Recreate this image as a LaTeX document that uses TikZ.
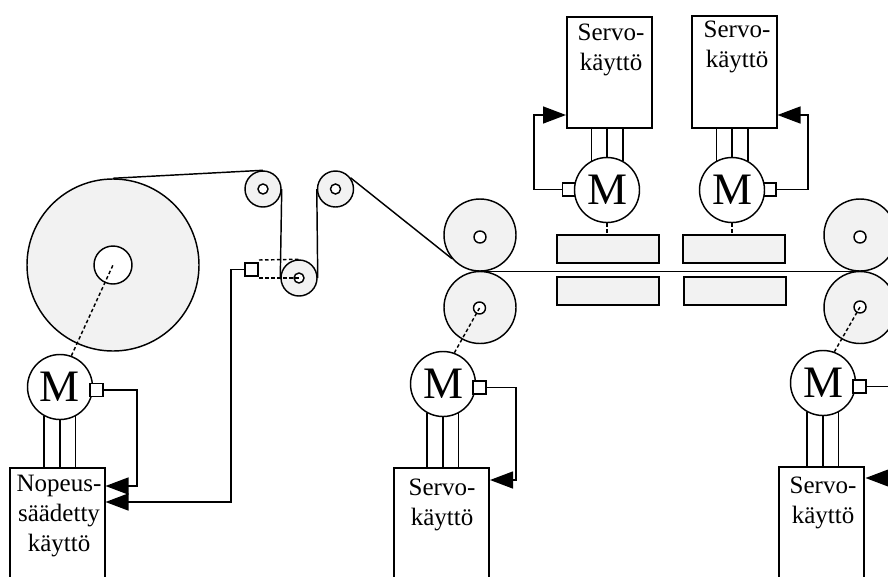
\documentclass[tikz,border=0pt]{standalone}
\usepackage{fontspec}
\setmainfont{Liberation Serif}
\usetikzlibrary{arrows.meta}
\definecolor{rollgray}{RGB}{242,242,242}
\tikzset{
  roll/.style={circle,draw,fill=rollgray,inner sep=0pt,minimum size=#1},
  hub/.style={circle,draw,fill=white,inner sep=0pt,minimum size=#1},
  motor/.style={circle,draw,fill=white,inner sep=0pt,minimum size=65,font=\fontsize{45}{45}\selectfont},
  sensor/.style={rectangle,draw,fill=white,inner sep=0pt,minimum size=13},
  drive/.style={rectangle,draw,fill=white,inner sep=0pt,minimum width=#1},
  plate/.style={rectangle,draw,fill=rollgray,inner sep=0pt,minimum width=102,minimum height=28},
  drivetext/.style={anchor=north,align=center,inner sep=0pt,font=\fontsize{25}{30}\selectfont},
  shaft/.style={dash pattern=on 3.5pt off 2.5pt},
  feedback/.style={-{Triangle[length=23pt,width=17pt]}}
}
\begin{document}
\begin{tikzpicture}[x=1pt,y=-1pt,line width=1.45pt]
      \clip (0,0) rectangle (888,576);
      % rolls
      \node[roll=172] (bigroll) at (113,265) {};
      \node[hub=38] (bighub) at (113,265) {};
      \node[roll=36] (guideA) at (263,189) {};
      \node[hub=10] (guideAhub) at (263,189) {};
      \node[roll=36] (guideB) at (335.5,189) {};
      \node[hub=10] (guideBhub) at (335.5,189) {};
      \node[roll=36] (dancer) at (299,278) {};
      \node[hub=10] (dancerhub) at (299,278) {};
      \node[roll=72] (nipupper) at (480,235) {};
      \node[hub=12] (nipupperhub) at (480,237) {};
      \node[roll=72] (niplower) at (480,307.5) {};
      \node[hub=12] (niplowerhub) at (479.5,308) {};
      \node[roll=72] (endupper) at (860,235) {};
      \node[hub=12] (endupperhub) at (860,237) {};
      \node[roll=72] (endlower) at (860,307.5) {};
      \node[hub=12] (endlowerhub) at (860,307) {};
      % web
      \draw (bigroll.north) -- (guideA.north);
      \draw (guideA.east) -- (dancer.west);
      \draw (dancer.east) -- (guideB.west);
      \draw (guideB.37) -- (nipupper.220);
      \draw (nipupper.south) -- (endupper.south);
      % plates
      \node[plate] (plateA) at (608,249) {};
      \node[plate] (plateB) at (734,249) {};
      \node[plate] (plateC) at (608,291) {};
      \node[plate] (plateD) at (735,291) {};
      % drives
      \node[drive=95,minimum height=120] (driveA) at (57.5,528) {};
      \node[drive=95,minimum height=120] (driveB) at (441.5,528) {};
      \node[drive=85,minimum height=120] (driveC) at (821.5,527) {};
      \node[drive=85,minimum height=111] (driveD) at (609.5,72.5) {};
      \node[drive=85,minimum height=112] (driveE) at (734.5,72) {};
      \node[drivetext] (textA) at (59,474.5) {Nopeus-\\säädetty\\käyttö};
      \node[drivetext] (textB) at (442,478) {Servo-\\käyttö};
      \node[drivetext] (textC) at (823,476) {Servo-\\käyttö};
      \node[drivetext] (textD) at (611,23) {Servo-\\käyttö};
      \node[drivetext] (textE) at (737,20) {Servo-\\käyttö};
      % motors
      \node[sensor] (sensorD) at (569,189.5) {};
      \node[sensor] (sensorE) at (769.5,189.5) {};
      \node[motor] (motorA) at (60,387) {M};
      \node[motor] (motorB) at (443,384) {M};
      \node[motor] (motorC) at (823,383) {M};
      \node[motor] (motorD) at (607,190) {M};
      \node[motor] (motorE) at (732,190) {M};
      \node[sensor] (sensorA) at (96.5,390) {};
      \node[sensor] (sensorB) at (479.5,387.5) {};
      \node[sensor] (sensorC) at (859.5,386.5) {};
      \node[sensor] (sensorW) at (251.5,269.5) {};
      % motor cables
      \foreach \m/\d in {motorA/driveA,motorB/driveB,motorC/driveC}
        \foreach \a in {241.5,270,298.5}
          \draw (\m.\a) -- (\m.\a |- \d.north);
      \foreach \m/\d in {motorD/driveD,motorE/driveE}
        \foreach \a in {61.5,90,118.5}
          \draw (\m.\a) -- (\m.\a |- \d.south);
      % shafts
      \draw[shaft] (motorA.70) -- (bighub.center);
      \draw[shaft] (motorB.70) -- (niplowerhub.center);
      \draw[shaft] (motorC.70) -- (endlowerhub.center);
      \draw[shaft] (motorD.south) -- (plateA.north -| motorD.south);
      \draw[shaft] (motorE.south) -- (plateB.north -| motorE.south);
      \coordinate (dotupper) at (259,260);
      \coordinate (dotlower) at (259,278);
      \draw[shaft] (dotupper) -- (dancer.north);
      \draw[shaft] (dotlower) -- (dancerhub.center);
      % feedback
      \coordinate (bendA) at (137,486);
      \coordinate (tipA) at (105.5,486);
      \coordinate (bendW) at (231,502);
      \coordinate (tipW) at (105.5,502);
      \coordinate (bendB) at (516,480);
      \coordinate (tipB) at (490,480);
      \coordinate (bendC) at (900,478);
      \coordinate (tipC) at (865.5,478);
      \coordinate (bendD) at (534,115);
      \coordinate (tipD) at (566,115);
      \coordinate (bendE) at (808,115);
      \coordinate (tipE) at (777.5,115);
      \draw[feedback] (sensorA.east) -| (bendA) -- (tipA);
      \draw[feedback] (sensorW.west) -| (bendW) -- (tipW);
      \draw[feedback] (sensorB.east) -| (bendB) -- (tipB);
      \draw[feedback] (sensorC.east) -| (bendC) -- (tipC);
      \draw[feedback] (sensorD.west) -| (bendD) -- (tipD);
      \draw[feedback] (sensorE.east) -| (bendE) -- (tipE);
    \end{tikzpicture}
\end{document}
